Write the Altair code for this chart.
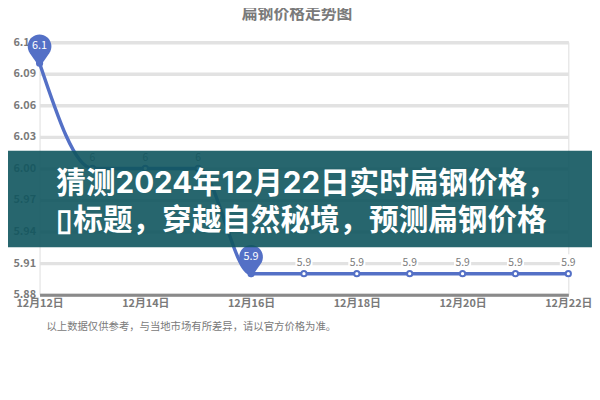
import altair as alt
import pandas as pd

# ---- data ----
dates = ["12月12日", "12月13日", "12月14日", "12月15日", "12月16日", "12月17日",
         "12月18日", "12月19日", "12月20日", "12月21日", "12月22日"]
prices = [6.1, 6.0, 6.0, 6.0, 5.9, 5.9, 5.9, 5.9, 5.9, 5.9, 5.9]
labels = ["6.1", "6", "6", "6", "5.9", "5.9", "5.9", "5.9", "5.9", "5.9", "5.9"]
y_ticks = [5.88, 5.91, 5.94, 5.97, 6.00, 6.03, 6.06, 6.09, 6.12]

chart_title = "扁钢价格走势图"
banner_line1 = "猜测2024年12月22日实时扁钢价格，"
banner_line2 = "▯标题，穿越自然秘境，预测扁钢价格"
note = "以上数据仅供参考，与当地市场有所差异，请以官方价格为准。"

BLUE = "#5470c6"
GRAY = "#7a7a7a"
FONT = "Noto Sans CJK SC"
PIN = "M0,0.333L-0.821,-0.845A1,1,0,1,1,0.821,-0.845Z"

df = pd.DataFrame({"date": dates, "price": prices, "label": labels})
df["pin"] = False
df.loc[[df.price.idxmax(), df.price.idxmin()], "pin"] = True

x = alt.X("date:O", sort=dates, scale=alt.Scale(padding=0),
          axis=alt.Axis(values=dates[::2], title=None, labelAngle=0, ticks=False,
                        domainColor="#8a8a8a", domainWidth=3, labelColor=GRAY,
                        labelFontSize=11, labelPadding=3, labelFontWeight="bold"))
y = alt.Y("price:Q", scale=alt.Scale(domain=[5.88, 6.12], nice=False, zero=False),
          axis=alt.Axis(values=y_ticks, format=".2f", title=None, domain=False, ticks=False,
                        gridColor="#e2e2e2", gridWidth=3.5, labelColor=GRAY,
                        labelFontSize=11, labelPadding=4, labelFontWeight="bold"))

base = alt.Chart(df).encode(x=x, y=y)

boxes = base.transform_filter("!datum.pin").mark_square(
    color="white", size=300, yOffset=-11, opacity=1)
line = base.mark_line(interpolate="monotone", color=BLUE, strokeWidth=3.5)
pts = base.mark_point(filled=True, fill="white", stroke=BLUE, strokeWidth=2,
                      size=28, opacity=1)
lbl = base.transform_filter("!datum.pin").mark_text(
    dy=-11, fontSize=10.5, color=GRAY).encode(text="label")
pins = base.transform_filter("datum.pin").mark_point(
    shape=PIN, size=576, filled=True, color=BLUE, opacity=1)
pintext = base.transform_filter("datum.pin").mark_text(
    dy=-17, color="white", fontSize=11).encode(text="label")

deco = alt.Chart(pd.DataFrame({"k": [0]}))
title = deco.mark_text(text=chart_title, fontSize=16, fontWeight="bold", color=GRAY,
                       align="center", baseline="middle").encode(
    x=alt.value(261), y=alt.value(-28))
foot = deco.mark_text(text=note, fontSize=10.5, color=GRAY, align="left",
                      baseline="middle").encode(x=alt.value(7), y=alt.value(289))
banner = deco.mark_rect(color="#0f555e", opacity=0.9).encode(
    x=alt.value(-32), x2=alt.value(560), y=alt.value(110), y2=alt.value(208))
t1 = deco.mark_text(text=banner_line1, align="left", baseline="middle", fontSize=30,
                    fontWeight="bold", color="white",
                    font="Inter, Noto Sans CJK SC").encode(
    x=alt.value(17), y=alt.value(144))
t2 = deco.mark_text(text=banner_line2, align="left", baseline="middle", fontSize=30,
                    fontWeight="bold", color="white").encode(
    x=alt.value(17), y=alt.value(181))

chart = alt.layer(boxes, line, pts, lbl, pins, pintext, title, foot, banner, t1, t2).properties(
    width=536, height=256,
    padding={"left": 32, "top": 32, "right": 24, "bottom": 96},
    autosize=alt.AutoSizeParams(type="none"),
    background="white",
).configure_view(stroke=None).configure(font=FONT)

chart.save("out.html", embed_options={"renderer": "svg", "actions": False})
